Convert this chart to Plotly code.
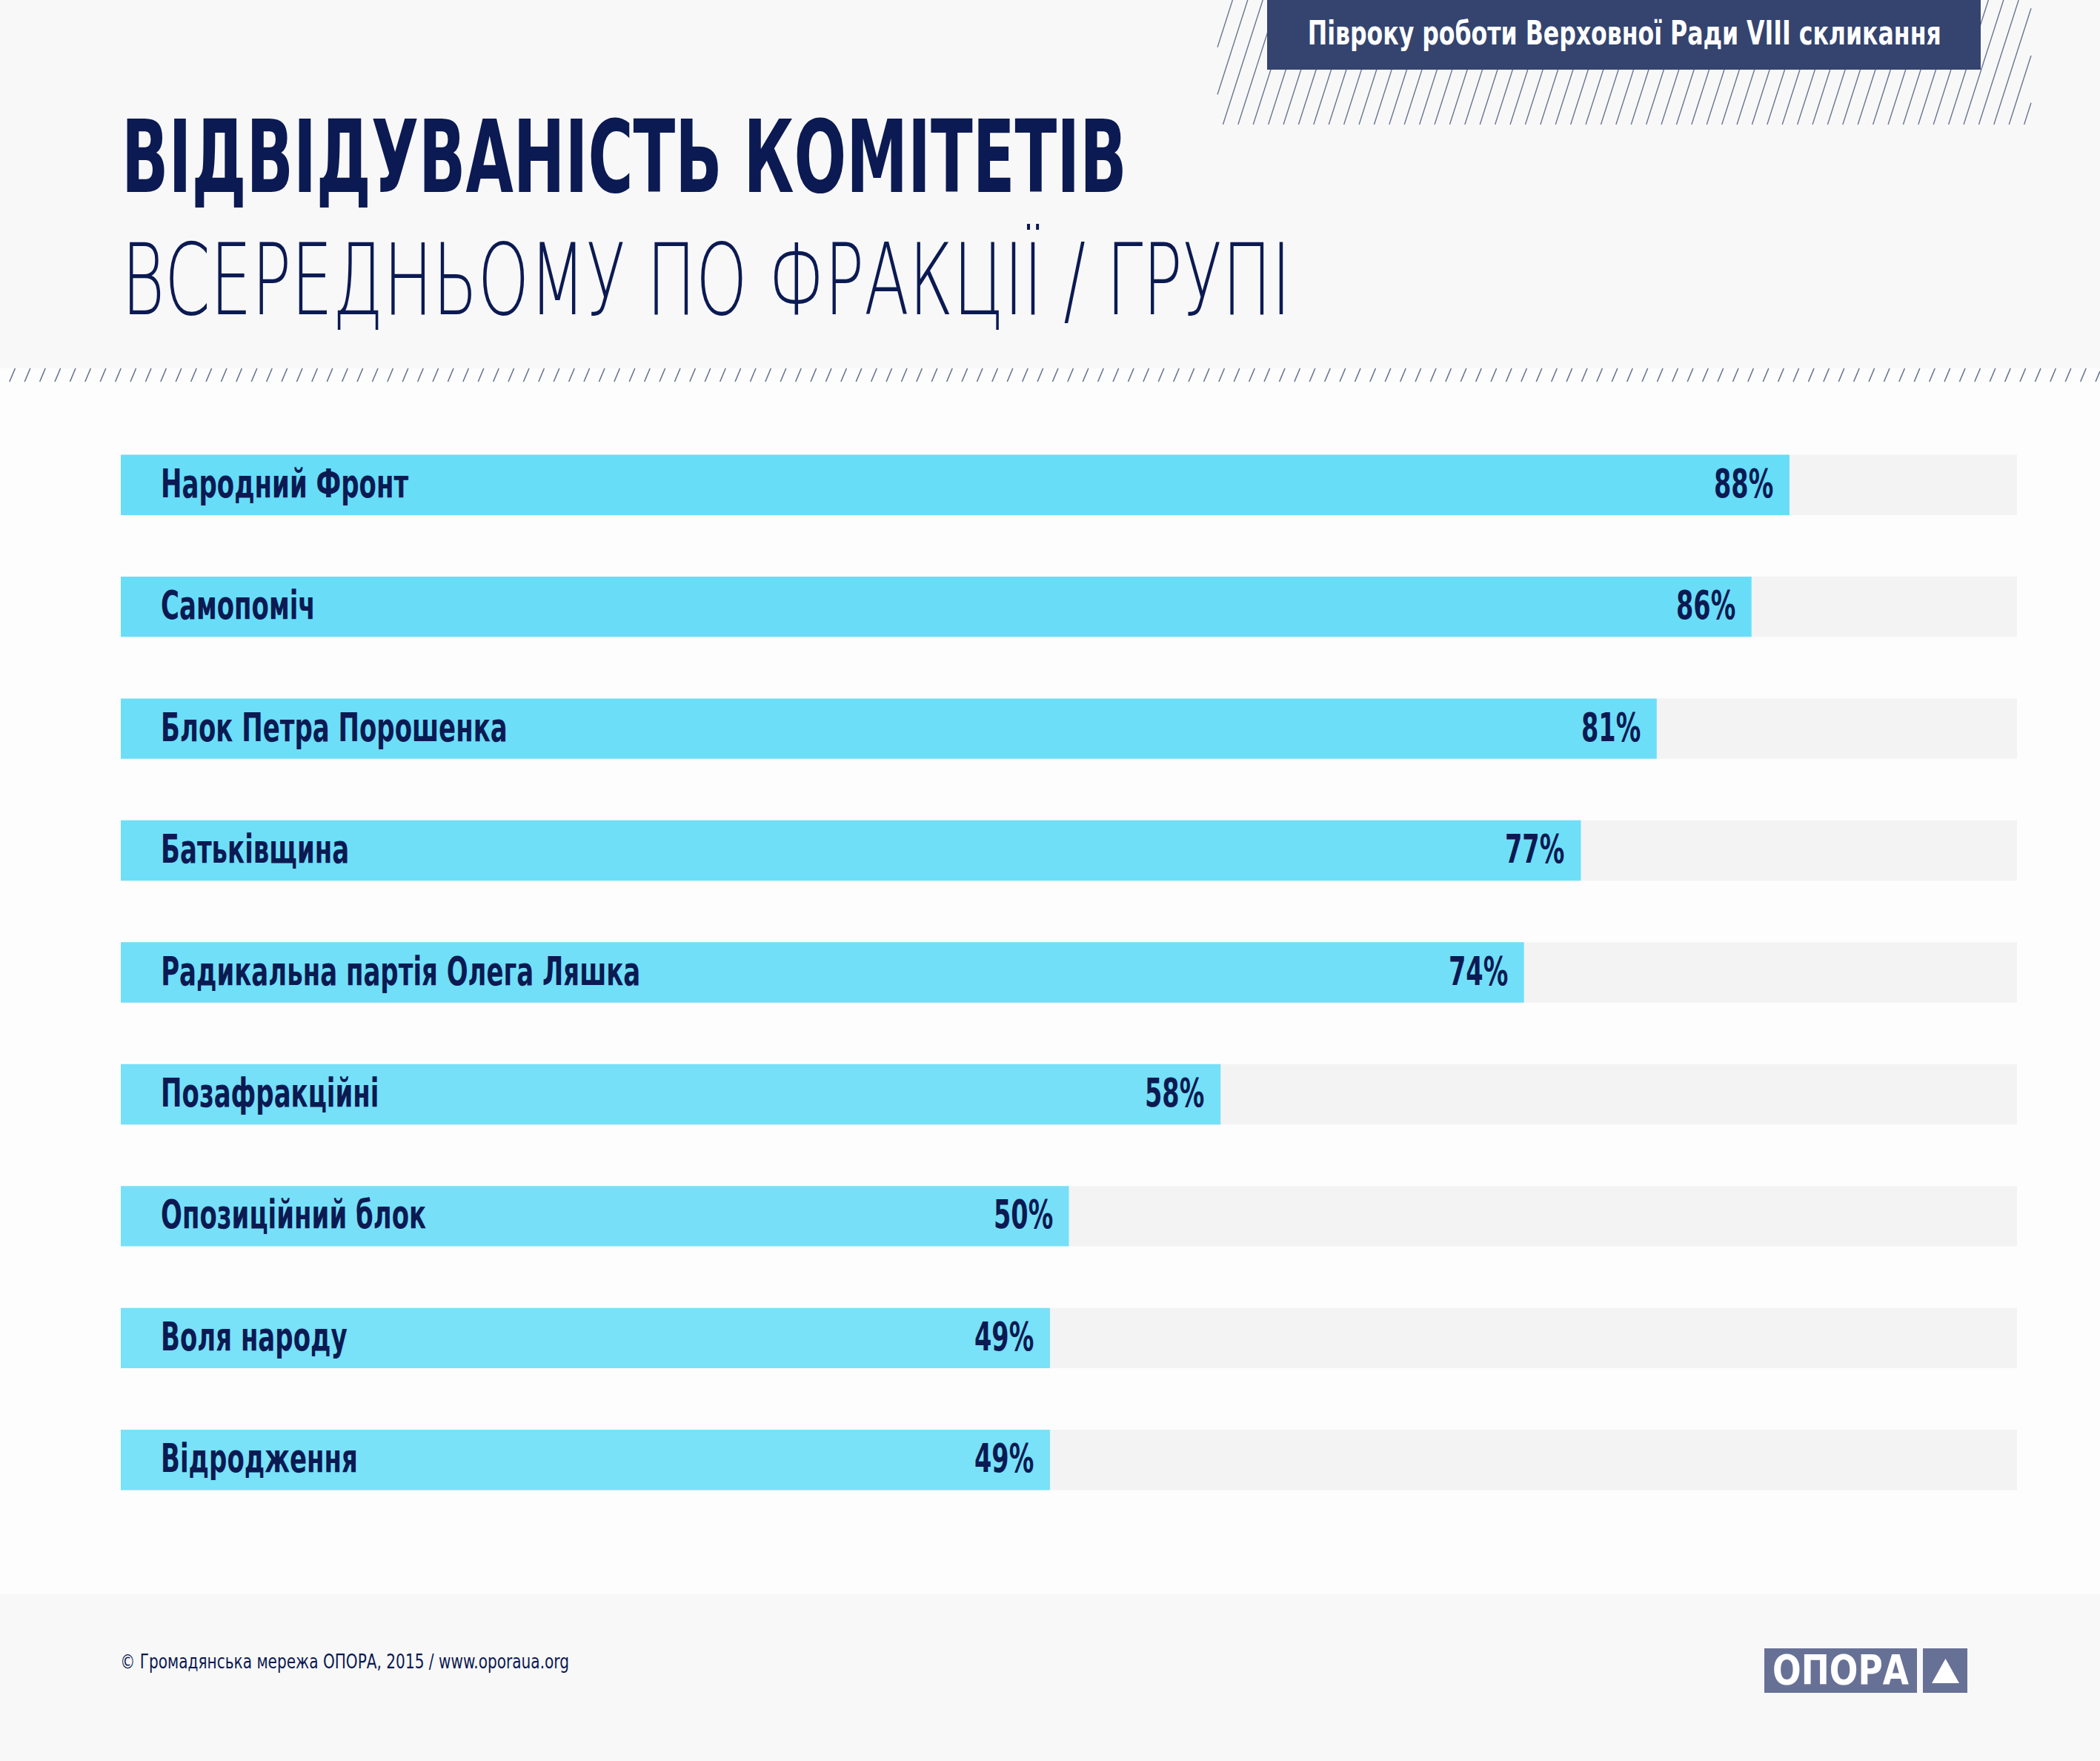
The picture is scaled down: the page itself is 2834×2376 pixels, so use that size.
import json

import plotly.graph_objects as go

W, H = 2834, 2376

parties = [
    "Народний Фронт",
    "Самопоміч",
    "Блок Петра Порошенка",
    "Батьківщина",
    "Радикальна партія Олега Ляшка",
    "Позафракційні",
    "Опозиційний блок",
    "Воля народу",
    "Відродження",
]
attendance = [88, 86, 81, 77, 74, 58, 50, 49, 49]
value_labels = [f"{v}%" for v in attendance]

title = "ВІДВІДУВАНІСТЬ КОМІТЕТІВ"
subtitle = "ВСЕРЕДНЬОМУ ПО ФРАКЦІЇ / ГРУПІ"
badge = "Півроку роботи Верховної Ради VIII скликання"
footer = "© Громадянська мережа ОПОРА, 2015 / www.oporaua.org"

NAVY = "#0b1a52"
COND = "DejaVu Sans Condensed, DejaVu Sans, sans-serif"
THIN = "DejaVu Sans, sans-serif"

# bars get a little lighter going down
bar_colors = ["#67ddf8", "#69ddf8", "#6cdef8", "#6fdff8", "#71dff8",
              "#75e0f8", "#77e0f8", "#79e1f8", "#79e1f8"]


def px(x):
    return x / W


def py(y):
    return 1 - y / H


def hatch(x0, x1, y0, y1, step=20.4, lean=0.4):
    # diagonal "/" lines clipped to a box, in pixel coordinates
    h = y1 - y0
    parts = []
    x = x0 - h * lean
    while x < x1:
        xa, ya = x, y1
        xb, yb = x + h * lean, y0
        if xa < x0:
            ya = y1 - (x0 - xa) / lean
            xa = x0
        if xb > x1:
            yb = y0 + (xb - x1) / lean
            xb = x1
        if xb > xa:
            parts.append(f"M{px(xa):.5f},{py(ya):.5f} L{px(xb):.5f},{py(yb):.5f}")
        x += step
    return " ".join(parts)


def font(size, color=NAVY, weight="normal", family=COND):
    return dict(family=family, size=size, color=color, weight=weight)


fig = go.Figure()

fig.add_trace(go.Bar(
    y=parties, x=[100] * len(parties), orientation="h",
    marker=dict(color="#f3f3f3", line_width=0), width=0.495,
    hoverinfo="skip",
))
fig.add_trace(go.Bar(
    y=parties, x=attendance, orientation="h",
    marker=dict(color=bar_colors, line_width=0), width=0.495,
))

shapes = [
    dict(type="rect", xref="paper", yref="paper", x0=0, x1=1, y0=py(497), y1=1,
         fillcolor="#f8f8f8", line_width=0, layer="below"),
    dict(type="rect", xref="paper", yref="paper", x0=0, x1=1, y0=0, y1=py(2151),
         fillcolor="#f8f8f8", line_width=0, layer="below"),
    dict(type="path", xref="paper", yref="paper", path=hatch(0, W, 497, 515, lean=0.42),
         line=dict(color="#6b7690", width=1.6), layer="below"),
    dict(type="path", xref="paper", yref="paper", path=hatch(1643, 2741, 0, 168, lean=0.32),
         line=dict(color="#6b7690", width=1.4), layer="below"),
    dict(type="rect", xref="paper", yref="paper", x0=px(1710), x1=px(2673),
         y0=py(94), y1=1, fillcolor="#34446f", line_width=0, layer="below"),
    dict(type="rect", xref="paper", yref="paper", x0=px(2381), x1=px(2587),
         y0=py(2284), y1=py(2224), fillcolor="#677196", line_width=0),
    dict(type="rect", xref="paper", yref="paper", x0=px(2595), x1=px(2655),
         y0=py(2284), y1=py(2224), fillcolor="#677196", line_width=0),
    dict(type="path", xref="paper", yref="paper",
         path=f"M{px(2607)},{py(2271)} L{px(2644)},{py(2271)} L{px(2625.5)},{py(2238)} Z",
         fillcolor="white", line_width=0),
]

# (annotation, horizontal squeeze, origin of the squeeze)
annotations, squeeze, origin = [], [], []


def add(ann, sx=1.0, org="left"):
    annotations.append(ann)
    squeeze.append(sx)
    origin.append(org)


for name, val, lab in zip(parties, attendance, value_labels):
    add(dict(x=0, y=name, xref="x", yref="y", text=name, showarrow=False,
             xanchor="left", xshift=52, yshift=2,
             font=font(54, weight="bold")), 0.70, "left")
    add(dict(x=val, y=name, xref="x", yref="y", text=lab, showarrow=False,
             xanchor="right", xshift=-20, yshift=2,
             font=font(54, weight="bold")), 0.69, "right")

add(dict(x=px(162), y=py(212), xref="paper", yref="paper", text=title,
         showarrow=False, xanchor="left", yanchor="middle",
         font=font(136, weight="bold")), 0.68, "left")
add(dict(x=px(162), y=py(378), xref="paper", yref="paper", text=subtitle,
         showarrow=False, xanchor="left", yanchor="middle",
         font=font(134, weight=200, family=THIN)), 0.66, "left")
add(dict(x=px(2192), y=py(45), xref="paper", yref="paper", text=badge,
         showarrow=False, xanchor="center", yanchor="middle",
         font=font(45, color="white", weight="bold")), 0.78, "center")
add(dict(x=px(160), y=py(2242), xref="paper", yref="paper", text=footer,
         showarrow=False, xanchor="left", yanchor="middle",
         font=font(26)), 0.86, "left")
add(dict(x=px(2484), y=py(2253), xref="paper", yref="paper", text="ОПОРА",
         showarrow=False, xanchor="center", yanchor="middle",
         font=font(55, color="white", weight="bold")), 0.92, "center")

fig.update_layout(
    width=W, height=H,
    margin=dict(l=0, r=0, t=0, b=0),
    paper_bgcolor="#fdfdfd", plot_bgcolor="rgba(0,0,0,0)",
    barmode="overlay", showlegend=False,
    shapes=shapes, annotations=annotations,
    xaxis=dict(range=[0, 100], domain=[px(163), px(2722)], visible=False,
               fixedrange=True),
    yaxis=dict(categoryorder="array", categoryarray=parties, autorange="reversed",
               domain=[py(2052), py(572)], visible=False, fixedrange=True),
)

# the original lettering is a narrow face; squeeze the text horizontally
post = """
document.body.style.margin = '0';
var gd = document.getElementById('{plot_id}');
var sx = SX, org = ORG;
gd.querySelectorAll('g.annotation').forEach(function (g) {
  var i = +g.getAttribute('data-index');
  var t = g.querySelector('text.annotation-text');
  if (!t || sx[i] === 1) return;
  t.style.transformBox = 'fill-box';
  t.style.transformOrigin = org[i] + ' center';
  t.style.transform = 'scaleX(' + sx[i] + ')';
});
""".replace("SX", json.dumps(squeeze)).replace("ORG", json.dumps(origin))

fig.write_html("out.html", post_script=post, config={"displayModeBar": False})
